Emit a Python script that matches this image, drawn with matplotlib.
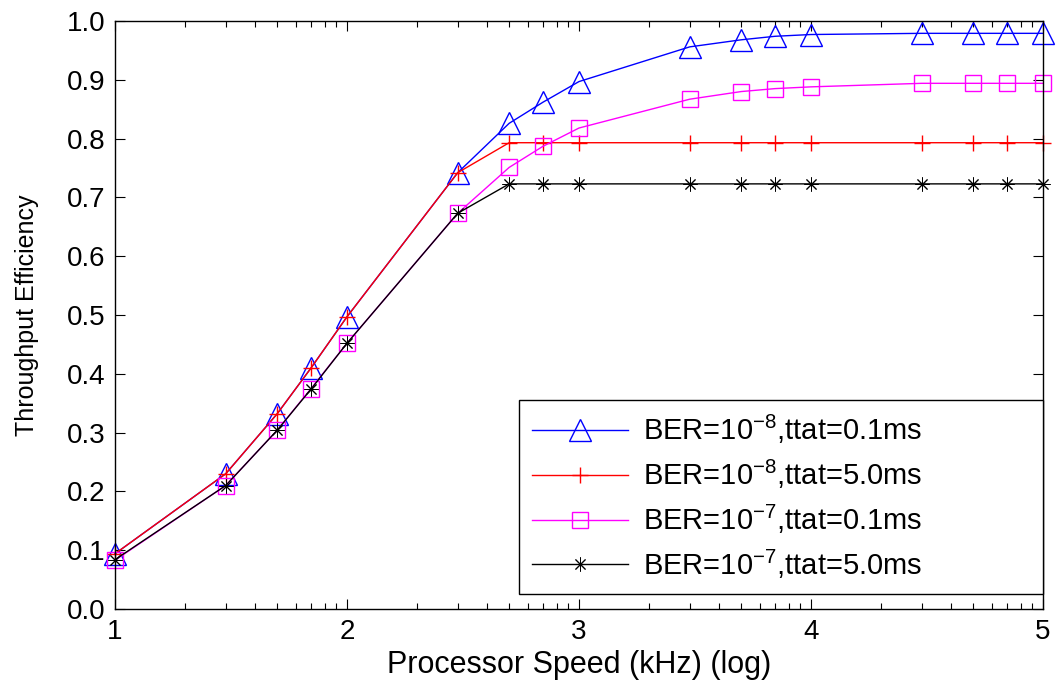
import numpy as np
import matplotlib
matplotlib.use('Agg')
from matplotlib import pyplot as plt

plt.rcParams['font.family'] = ['Liberation Sans', 'DejaVu Sans']
plt.rcParams['mathtext.fontset'] = 'custom'
plt.rcParams['mathtext.rm'] = 'Liberation Sans'

# processor speed in kHz, plotted on log10 axis
speed_khz = [10, 30, 50, 70, 100, 300, 500, 700, 1000, 3000, 5000, 7000,
             10000, 30000, 50000, 70000, 100000]
x = np.log10(speed_khz)

ber8_t01 = [0.094, 0.230, 0.332, 0.410, 0.497, 0.742, 0.826, 0.862, 0.897,
            0.956, 0.968, 0.974, 0.977, 0.979, 0.979, 0.979, 0.979]
ber8_t50 = [0.094, 0.230, 0.332, 0.410, 0.497, 0.742, 0.793, 0.793, 0.793,
            0.793, 0.793, 0.793, 0.793, 0.793, 0.793, 0.793, 0.793]
ber7_t01 = [0.083, 0.210, 0.304, 0.375, 0.452, 0.673, 0.751, 0.787, 0.818,
            0.867, 0.880, 0.885, 0.888, 0.894, 0.894, 0.894, 0.894]
ber7_t50 = [0.084, 0.210, 0.304, 0.374, 0.452, 0.673, 0.723, 0.723, 0.723,
            0.723, 0.723, 0.723, 0.723, 0.723, 0.723, 0.723, 0.723]

labels = ['BER=10$^{\\mathdefault{-8}}$,ttat=0.1ms',
          'BER=10$^{\\mathdefault{-8}}$,ttat=5.0ms',
          'BER=10$^{\\mathdefault{-7}}$,ttat=0.1ms',
          'BER=10$^{\\mathdefault{-7}}$,ttat=5.0ms']

fig = plt.figure(figsize=(10.56, 6.86), dpi=100)
ax = fig.add_axes([0.1089, 0.1122, 0.8788, 0.8572])

ax.plot(x, ber8_t01, color='#0000FF', lw=1, marker='^', ms=16, mfc='none',
        mec='#0000FF', mew=1, clip_on=False, label=labels[0])
ax.plot(x, ber8_t50, color='#FF0000', lw=1, marker='+', ms=11, mew=1,
        clip_on=False, label=labels[1])
ax.plot(x, ber7_t01, color='#FF00FF', lw=1, marker='s', ms=11, mfc='none',
        mec='#FF00FF', mew=1, clip_on=False, label=labels[2])
ax.plot(x, ber7_t50, color='black', lw=1, marker=(8, 2, 0), ms=10, mew=0.7,
        clip_on=False, label=labels[3])

ax.set_xlim(1, 5)
ax.set_ylim(0, 1)
ax.set_xticks([1, 2, 3, 4, 5])
ax.set_xticklabels(['1', '2', '3', '4', '5'])
minor = [d + np.log10(k) for d in range(1, 5) for k in range(2, 10)]
ax.set_xticks(minor, minor=True)
yt = np.arange(0, 1.01, 0.1)
ax.set_yticks(yt)
ax.set_yticklabels(['%.1f' % v for v in yt])

ax.tick_params(which='both', direction='in', top=True, right=True,
               width=0.8, labelsize=20)
ax.tick_params(which='major', length=7, pad=7)
ax.tick_params(which='minor', length=4)
for s in ax.spines.values():
    s.set_linewidth(1)

ax.set_xlabel('Processor Speed (kHz) (log)', fontsize=22, labelpad=4)
ax.set_ylabel('Throughput Efficiency', fontsize=18, labelpad=20)

leg = ax.legend(loc='lower left', bbox_to_anchor=(0.4353, 0.026, 0.5647, 0.3152),
                mode='expand', fontsize=21, frameon=True, fancybox=False,
                edgecolor='black', handlelength=3.3, handletextpad=0.5,
                labelspacing=0.4, borderaxespad=0, borderpad=0.45)
leg.get_frame().set_linewidth(1)
leg.get_frame().set_alpha(1)

plt.savefig('out.png', dpi=100)
